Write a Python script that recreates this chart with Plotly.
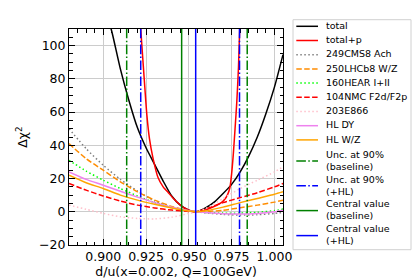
import plotly.graph_objects as go

# ---------------- data ----------------
du_grid = [0.88, 0.89, 0.90, 0.91, 0.92, 0.93, 0.94, 0.95, 0.954, 0.96, 0.97, 0.98, 0.99, 1.00, 1.005]
chi2_cms = [50, 38, 28, 19.5, 12.5, 6.5, 2.5, 0.3, 0, -0.7, -1.6, -2.0, -1.8, -1.0, -0.4]
chi2_lhcb = [41, 32, 25, 18, 12, 7, 3.2, 0.6, 0, 0.1, 0.9, 2.4, 4.0, 5.8, 7.0]
chi2_hear = [31, 24.5, 19, 14, 9.5, 5.5, 2.5, 0.5, 0, -0.4, -0.8, -0.8, -0.3, 0.7, 1.6]
chi2_nmc = [17, 13, 9.5, 6.5, 4, 2.3, 1.0, 0.2, 0, 1.8, 5.5, 8.5, 11.5, 15, 17]
chi2_e866 = [4, 1.5, -1, -3, -4, -4.3, -3.3, -1, 0, 2, 8, 14, 19, 24, 27]
chi2_hldy = [24, 19.5, 16, 12.3, 8.8, 5.5, 2.7, 0.6, 0, -0.5, -1.2, -1.4, -1.1, 0.0, 1.0]
chi2_hlwz = [22, 17.5, 14, 10, 7, 4.5, 2.3, 0.5, 0, 0.6, 2.8, 5.5, 8, 10.5, 12]

du_total = [0.902, 0.905, 0.91, 0.915, 0.92, 0.925, 0.93, 0.935, 0.94, 0.945, 0.95, 0.954,
            0.96, 0.965, 0.97, 0.975, 0.98, 0.985, 0.99, 0.995, 1.0, 1.005]
chi2_total = [119, 108.5, 86, 67, 50.5, 38.5, 28.5, 18.5, 9.5, 4, 1, 0,
              2.5, 6, 11, 16.5, 24, 33.5, 45, 59, 75, 94.6]

du_totp = [0.9213, 0.9219, 0.9225, 0.924, 0.9255, 0.927, 0.929, 0.932, 0.935, 0.938, 0.941,
           0.944, 0.947, 0.95, 0.954, 0.958, 0.962, 0.966, 0.969, 0.971, 0.9725, 0.974,
           0.975, 0.976, 0.977, 0.978, 0.979, 0.9797, 0.9803]
chi2_totp = [118, 110, 101, 79, 58, 44, 32.6, 20.6, 15, 11.5, 8,
             5, 2.5, 1, 0, 0.6, 2, 3.8, 5.5, 7.5, 10, 14.6,
             23, 35, 50, 66, 87, 110, 120]

unc90_baseline = [0.9137, 0.9841]
unc90_hl = [0.9219, 0.9796]
central_baseline = 0.9458
central_hl = 0.954

x_ticks = [0.900, 0.925, 0.950, 0.975, 1.000]
y_ticks = [-20, 0, 20, 40, 60, 80, 100]
x_range = [0.88, 1.005]
y_range = [-20, 110]

# ---------------- styles ----------------
DOT = "1.5px,2.5px"
DASH = "5.5px,2.4px"
DASHDOT = "9.6px,2.4px,1.5px,2.4px"
LW = 1.5
FONT = "DejaVu Sans"

curves = [
    ("total", du_total, chi2_total, "black", "solid"),
    ("total+p", du_totp, chi2_totp, "red", "solid"),
    ("249CMS8 Ach", du_grid, chi2_cms, "gray", DOT),
    ("250LHCb8 W/Z", du_grid, chi2_lhcb, "darkorange", DASH),
    ("160HEAR I+II", du_grid, chi2_hear, "lime", DOT),
    ("104NMC F2d/F2p", du_grid, chi2_nmc, "red", DASH),
    ("203E866", du_grid, chi2_e866, "pink", DOT),
    ("HL DY", du_grid, chi2_hldy, "violet", "solid"),
    ("HL W/Z", du_grid, chi2_hlwz, "orange", "solid"),
]

vlines = [
    ("Unc. at 90%<br>(baseline)", unc90_baseline, "green", DASHDOT),
    ("Unc. at 90%<br>(+HL)", unc90_hl, "blue", DASHDOT),
    ("Central value<br>(baseline)", [central_baseline], "green", "solid"),
    ("Central value<br>(+HL)", [central_hl], "blue", "solid"),
]

fig = go.Figure()
for name, xs, ys, color, dash in curves:
    fig.add_trace(go.Scatter(x=xs, y=ys, mode="lines", name=name, showlegend=False,
                             line=dict(color=color, width=LW, dash=dash, shape="spline", smoothing=0.6)))

for name, vals, color, dash in vlines:
    for v in vals:
        fig.add_vline(x=v, line=dict(color=color, width=LW, dash=dash))

# ---------------- layout ----------------
W, H = 420, 280
L, R, T, B = 61, 145, 21, 43
pw, ph = W - L - R, H - T - B


def px_x(px):
    return (px - L) / pw


def px_y(py):
    return (H - B - py) / ph


# manual legend (matplotlib style)
fig.add_shape(type="rect", xref="paper", yref="paper",
              x0=px_x(285), x1=px_x(403), y0=px_y(241.7), y1=px_y(11.7),
              line=dict(color="#d0d0d0", width=1), fillcolor="rgba(255,255,255,0.8)", layer="above")

single_y = [18.3 + 14.2 * i for i in range(len(curves))]
double_y = [153.0, 177.8, 202.6, 227.6]
entries = [(n, c, d, y) for (n, _, _, c, d), y in zip(curves, single_y)] + \
          [(n, c, d, y) for (n, _, c, d), y in zip(vlines, double_y)]
for name, color, dash, yc in entries:
    fig.add_shape(type="line", xref="paper", yref="paper",
                  x0=px_x(288.3), x1=px_x(310), y0=px_y(yc), y1=px_y(yc),
                  line=dict(color=color, width=LW, dash=dash), layer="above")
    fig.add_annotation(xref="paper", yref="paper", x=px_x(315.5), y=px_y(yc - 0.8),
                       text=name, showarrow=False, xanchor="left", yanchor="middle",
                       align="left", font=dict(family=FONT, size=9.5, color="black"))

axis_common = dict(
    showline=True, linecolor="black", linewidth=1, mirror="allticks",
    ticks="inside", ticklen=6, tickwidth=1, tickcolor="black",
    showgrid=True, gridcolor="#cccccc", gridwidth=1, zeroline=False,
    tickfont=dict(family=FONT, size=12.5, color="black"),
)

fig.update_xaxes(range=x_range, tickvals=x_ticks, tickformat=".3f",
                 minor=dict(ticks="inside", ticklen=3.5, dtick=0.005, tick0=0.88, tickcolor="black", showgrid=False),
                 title=dict(text="d/u(x=0.002, Q=100GeV)", font=dict(family=FONT, size=12.5, color="black"), standoff=0),
                 **axis_common)
fig.update_yaxes(range=y_range, tickvals=y_ticks,
                 minor=dict(ticks="inside", ticklen=3.5, dtick=5, tick0=0, tickcolor="black", showgrid=False),
                 title=dict(text="Δχ<sup>2</sup>", font=dict(family=FONT, size=12.5, color="black"), standoff=8),
                 **axis_common)

fig.update_layout(width=W, height=H, margin=dict(l=L, r=R, t=T, b=B, autoexpand=False),
                  paper_bgcolor="white", plot_bgcolor="white", showlegend=False,
                  font=dict(family=FONT, color="black"))

fig.write_html("out.html")
